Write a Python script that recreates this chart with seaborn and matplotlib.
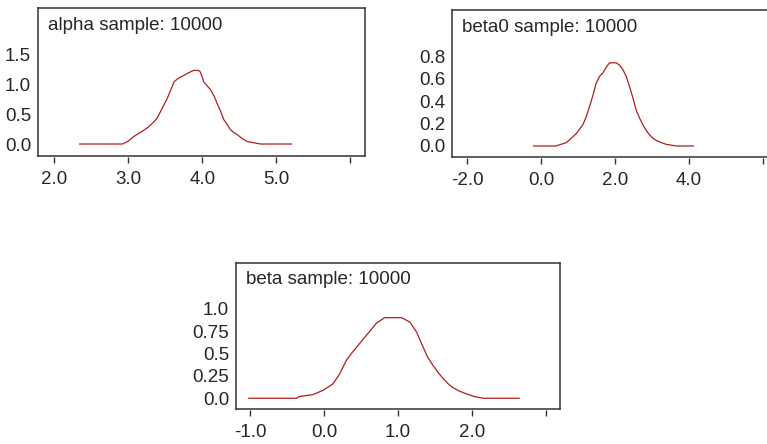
import numpy as np
import pandas as pd
import matplotlib
matplotlib.use("Agg")
import matplotlib.pyplot as plt
import seaborn as sns

sns.set_style("white")
plt.rcParams['font.family'] = ['Liberation Sans', 'DejaVu Sans']

# ---- data ----
alpha_x = [2.34, 2.92, 2.99, 3.08, 3.17, 3.26, 3.33, 3.39, 3.46, 3.53, 3.58, 3.62, 3.67, 3.71, 3.76,
           3.80, 3.85, 3.89, 3.94, 3.97, 4.00, 4.02, 4.06, 4.11, 4.16, 4.20, 4.25, 4.29, 4.34,
           4.38, 4.43, 4.47, 4.54, 4.61, 4.70, 4.79, 5.21]
alpha_y = [0.0, 0.0, 0.04, 0.13, 0.20, 0.27, 0.35, 0.43, 0.60, 0.77, 0.92, 1.04, 1.09, 1.12, 1.15,
           1.18, 1.21, 1.23, 1.23, 1.21, 1.12, 1.04, 0.98, 0.91, 0.80, 0.68, 0.54, 0.41, 0.32,
           0.24, 0.19, 0.16, 0.09, 0.04, 0.02, 0.0, 0.0]

beta0_x = [-0.21, 0.40, 0.68, 0.82, 0.95, 1.04, 1.13, 1.22, 1.31, 1.40, 1.49, 1.58, 1.67, 1.76, 1.85,
           2.03, 2.12, 2.21, 2.30, 2.39, 2.48, 2.57, 2.66, 2.75, 2.84, 2.93, 3.02, 3.11, 3.25,
           3.38, 3.65, 4.12]
beta0_y = [0.0, 0.0, 0.03, 0.07, 0.11, 0.15, 0.19, 0.26, 0.35, 0.45, 0.56, 0.62, 0.65, 0.70, 0.74,
           0.74, 0.72, 0.68, 0.62, 0.53, 0.43, 0.32, 0.25, 0.19, 0.14, 0.10, 0.07, 0.05, 0.03,
           0.015, 0.0, 0.0]

beta_x = [-1.02, -0.37, -0.33, -0.15, -0.01, 0.12, 0.21, 0.30, 0.37, 0.44, 0.50, 0.57, 0.64, 0.71,
          0.82, 1.05, 1.16, 1.25, 1.34, 1.40, 1.47, 1.54, 1.61, 1.68, 1.74, 1.83, 1.92, 2.03,
          2.15, 2.64]
beta_y = [0.0, 0.0, 0.02, 0.04, 0.09, 0.16, 0.27, 0.42, 0.50, 0.57, 0.63, 0.70, 0.77, 0.84,
          0.90, 0.90, 0.85, 0.74, 0.57, 0.46, 0.37, 0.29, 0.22, 0.16, 0.12, 0.08, 0.05, 0.02,
          0.0, 0.0]

titles = ["alpha sample: 10000", "beta0 sample: 10000", "beta sample: 10000"]
alpha_xticks = [2.0, 3.0, 4.0, 5.0, 6.0]
alpha_xlabels = ["2.0", "3.0", "4.0", "5.0", ""]
alpha_yticks = [0.0, 0.5, 1.0, 1.5]
alpha_ylabels = ["0.0", "0.5", "1.0", "1.5"]
beta0_xticks = [-2.0, 0.0, 2.0, 4.0, 6.0]
beta0_xlabels = ["-2.0", "0.0", "2.0", "4.0", ""]
beta0_yticks = [0.0, 0.2, 0.4, 0.6, 0.8]
beta0_ylabels = ["0.0", "0.2", "0.4", "0.6", "0.8"]
beta_xticks = [-1.0, 0.0, 1.0, 2.0, 3.0]
beta_xlabels = ["-1.0", "0.0", "1.0", "2.0", ""]
beta_yticks = [0.0, 0.25, 0.5, 0.75, 1.0]
beta_ylabels = ["0.0", "0.25", "0.5", "0.75", "1.0"]

W, H = 767, 444
fig = plt.figure(figsize=(W / 100, H / 100), dpi=100)

def px_axes(left, top, right, bottom):
    return fig.add_axes([left / W, 1 - bottom / H, (right - left) / W, (bottom - top) / H])

LINE = "#b01e1e"
SPINE = "#333333"
TXT = "#262626"
FS = 13.5

def panel(ax, x, y, title, xlim, ylim, xt, xl, yt, yl, box_h):
    df = pd.DataFrame({"x": x, "y": y})
    sns.lineplot(data=df, x="x", y="y", ax=ax, color=LINE, linewidth=0.9, sort=False)
    ax.set_xlim(*xlim)
    ax.set_ylim(*ylim)
    ax.set_xlabel("")
    ax.set_ylabel("")
    ax.set_xticks([])
    ax.set_yticks(yt)
    ax.set_yticklabels(yl, fontsize=FS, color=TXT)
    ax.tick_params(axis="y", direction="out", length=4, width=1, color=SPINE, pad=1)
    for s in ax.spines.values():
        s.set_visible(True)
        s.set_color(SPINE)
        s.set_linewidth(1.1)
    sec = ax.secondary_xaxis(-7 / box_h)
    sec.set_xticks(xt)
    sec.set_xticklabels(xl, fontsize=FS, color=TXT)
    sec.tick_params(axis="x", direction="in", length=4.5, width=1, color=SPINE, pad=6)
    sec.spines["bottom"].set_visible(False)
    ax.text(0.03, 1 - 8.5 / box_h, title, transform=ax.transAxes, ha="left", va="top",
            fontsize=FS, color=TXT)

ax1 = px_axes(38, 8, 365, 156)
panel(ax1, alpha_x, alpha_y, titles[0], (1.78, 6.2), (-0.2, 2.27),
      alpha_xticks, alpha_xlabels, alpha_yticks, alpha_ylabels, 148)

ax2 = px_axes(452, 10, 780, 157)
panel(ax2, beta0_x, beta0_y, titles[1], (-2.41, 6.46), (-0.098, 1.21),
      beta0_xticks, beta0_xlabels, beta0_yticks, beta0_ylabels, 147)

ax3 = px_axes(236, 263, 560, 409)
panel(ax3, beta_x, beta_y, titles[2], (-1.19, 3.19), (-0.12, 1.51),
      beta_xticks, beta_xlabels, beta_yticks, beta_ylabels, 146)

fig.savefig("out.png", dpi=100)
